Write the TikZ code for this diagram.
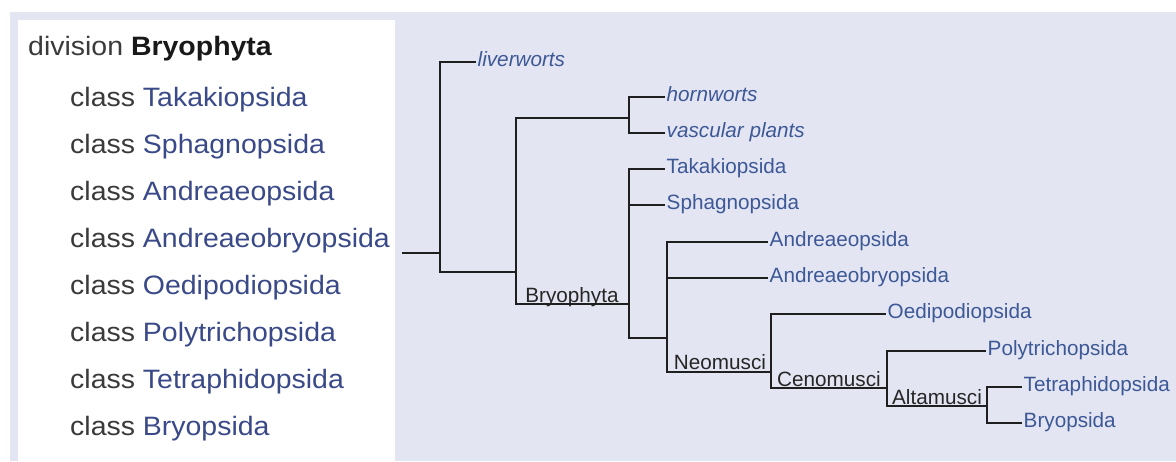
\documentclass[tikz,border=0pt]{standalone}
\usepackage{fontspec}
\setmainfont{Liberation Sans}
\newfontfamily\panelfont[FakeStretch=1.07]{Liberation Sans}
\usepackage{xcolor}
\definecolor{colorPage}{HTML}{E3E5F2}
\definecolor{colorTaxon}{HTML}{3A4A88}
\definecolor{colorLeaf}{HTML}{3D5896}
\definecolor{colorRank}{HTML}{3A3A3A}
\colorlet{colorClade}{black!85}
\colorlet{colorBranch}{black!88}
\usepackage{tikz}
\usetikzlibrary{positioning}
\tikzset{
  rank/.style={anchor=base west, inner sep=0pt, font=\panelfont\fontsize{26.6}{32}\selectfont, text=colorRank},
  leaf/.style={anchor=west, inner sep=1.5pt, text height=0.8em, text depth=0pt, font=\fontsize{20.7}{24}\selectfont, text=colorLeaf},
  outgroup/.style={leaf, font=\fontsize{20.7}{24}\selectfont\itshape},
  clade/.style={anchor=base, inner sep=0pt, font=\fontsize{20.7}{24}\selectfont, text=colorClade},
  branch/.style={draw=colorBranch, line width=1.6pt}
}

\begin{document}
\begin{tikzpicture}[x=1pt, y=-1pt]
\useasboundingbox (0,0) rectangle (1176,461);
\fill[white] (0,0) rectangle (1176,461);
\fill[colorPage] (10,12) rectangle (1176,461);
\fill[white] (18,20) rectangle (395,461);

% taxobox
\node[rank] (division) at (28,55) {division \textbf{\textcolor{black!90}{Bryophyta}}};
\node[rank] (c1) at (70,106) {class \textcolor{colorTaxon}{Takakiopsida}};
\node[rank, below=47pt of c1.base west, anchor=base west] (c2) {class \textcolor{colorTaxon}{Sphagnopsida}};
\node[rank, below=47pt of c2.base west, anchor=base west] (c3) {class \textcolor{colorTaxon}{Andreaeopsida}};
\node[rank, below=47pt of c3.base west, anchor=base west] (c4) {class \textcolor{colorTaxon}{Andreaeobryopsida}};
\node[rank, below=47pt of c4.base west, anchor=base west] (c5) {class \textcolor{colorTaxon}{Oedipodiopsida}};
\node[rank, below=47pt of c5.base west, anchor=base west] (c6) {class \textcolor{colorTaxon}{Polytrichopsida}};
\node[rank, below=47pt of c6.base west, anchor=base west] (c7) {class \textcolor{colorTaxon}{Tetraphidopsida}};
\node[rank, below=47pt of c7.base west, anchor=base west] (c8) {class \textcolor{colorTaxon}{Bryopsida}};

% cladogram
\coordinate (stem) at (402,253);
\coordinate (j0) at (440,253);
\coordinate (j1) at (516,272);
\coordinate (j2) at (629,118);
\coordinate (bryo) at (629,304);
\coordinate (j3) at (667,338);
\coordinate (neo) at (771,372);
\coordinate (ceno) at (887,388);
\coordinate (alta) at (987,406);

\node[outgroup] (liverworts) at (476,62) {liverworts};
\node[outgroup] (hornworts) at (665,97) {hornworts};
\node[outgroup] (vascular) at (665,133) {vascular plants};
\node[leaf] (takakiopsida) at (665,169) {Takakiopsida};
\node[leaf] (sphagnopsida) at (665,205) {Sphagnopsida};
\node[leaf] (andreaeopsida) at (768,242) {Andreaeopsida};
\node[leaf] (andreaeobryopsida) at (768,278) {Andreaeobryopsida};
\node[leaf] (oedipodiopsida) at (886,314) {Oedipodiopsida};
\node[leaf] (polytrichopsida) at (986,351) {Polytrichopsida};
\node[leaf] (tetraphidopsida) at (1022,387) {Tetraphidopsida};
\node[leaf] (bryopsida) at (1022,423) {Bryopsida};

\node[clade] (lbryo) at (572,302) {Bryophyta};
\node[clade] (lneo) at (720,369) {Neomusci};
\node[clade] (lceno) at (829,386) {Cenomusci};
\node[clade] (lalta) at (937,404) {Altamusci};

\draw[branch] (stem) -- (j0) |- (liverworts.west);
\draw[branch] (j0) |- (j1) |- (j2) |- (hornworts.west);
\draw[branch] (j2) |- (vascular.west);
\draw[branch] (j1) |- (bryo) |- (takakiopsida.west);
\draw[branch] (bryo) |- (sphagnopsida.west);
\draw[branch] (bryo) |- (j3) |- (andreaeopsida.west);
\draw[branch] (j3) |- (andreaeobryopsida.west);
\draw[branch] (j3) |- (neo) |- (oedipodiopsida.west);
\draw[branch] (neo) |- (ceno) |- (polytrichopsida.west);
\draw[branch] (ceno) |- (alta) |- (tetraphidopsida.west);
\draw[branch] (alta) |- (bryopsida.west);
\end{tikzpicture}
\end{document}
